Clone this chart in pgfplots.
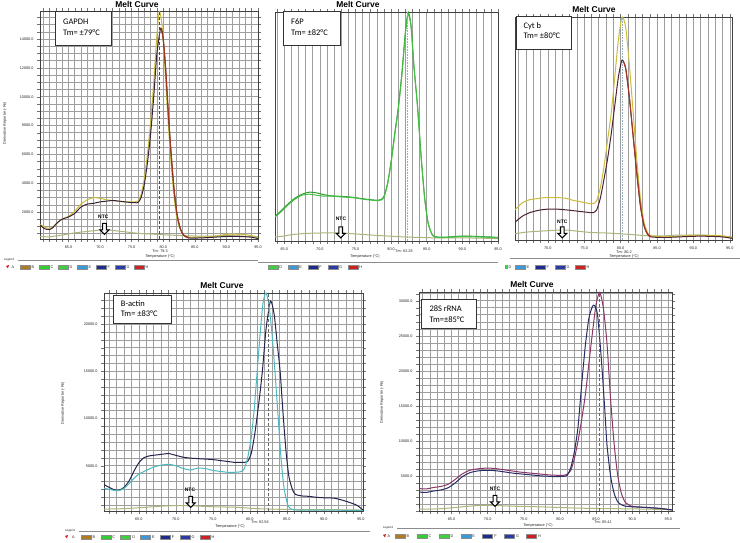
\documentclass[border=0pt]{standalone}
\usepackage{fontspec}
\setmainfont{Liberation Sans}
\newfontfamily\calibri{Carlito}
\usepackage{pgfplots}
\pgfplotsset{compat=1.18}
\usetikzlibrary{shapes.arrows}

% curve colours
\definecolor{cYel}{HTML}{CDBB3A}
\definecolor{cDark}{HTML}{3A2236}
\definecolor{cRed}{HTML}{A8361C}
\definecolor{cNtc}{HTML}{A9B77A}
\definecolor{cGrnA}{HTML}{2E9E2E}
\definecolor{cGrnB}{HTML}{46BE46}
\definecolor{cMaroon}{HTML}{4E2234}
\definecolor{cNavy}{HTML}{24244E}
\definecolor{cTeal}{HTML}{4DB9BF}
\definecolor{cMauve}{HTML}{8A3766}
\definecolor{cNavyB}{HTML}{2A2C66}
% legend swatches
\definecolor{legB}{HTML}{B07A22}
\definecolor{legC}{HTML}{33CC33}
\definecolor{legD}{HTML}{3FD03F}
\definecolor{legE}{HTML}{3A9AD8}
\definecolor{legF}{HTML}{1C2C8C}
\definecolor{legG}{HTML}{2B3BA6}
\definecolor{legH}{HTML}{CC2222}

\pgfplotsset{
  melt/.style={
    scale only axis, anchor=south west, clip=true,
    axis line style={black!75, line width=0.5bp},
    grid=both,
    major grid style={black!38, line width=0.55bp},
    minor grid style={black!38, line width=0.55bp},
    tick align=outside,
    major tick length=3bp, minor tick length=3bp,
    tick style={black!55, line width=0.4bp},
    xtick={65,70,...,95}, minor xtick={60,...,96},
    scaled ticks=false,
    tick label style={font=\fontsize{3.8}{4}\selectfont, text=black!85},
    /pgf/number format/fixed, /pgf/number format/fixed zerofill,
    /pgf/number format/precision=1, /pgf/number format/1000 sep={},
    /pgf/number format/assume math mode=true,
    every axis plot/.append style={line width=1bp, smooth, tension=0.4, mark=none},
  },
}

\tikzset{
  ntcarrow/.style={single arrow, draw=black, line width=1.1bp, fill=white,
    rotate=-90, minimum height=11bp, minimum width=9bp,
    single arrow head extend=2bp, inner sep=0.8bp},
  tiny/.style={font=\fontsize{3.8}{4}\selectfont, text=black!85, inner sep=0pt},
  mtitle/.style={font=\fontsize{8.5}{9}\selectfont\bfseries, inner sep=0pt},
  boxtxt/.style={font=\calibri\fontsize{8.5}{9}\selectfont, anchor=west, inner sep=0pt},
  ntc/.style={font=\fontsize{5}{5}\selectfont\bfseries, inner sep=0pt},
}

\def\legentries{B/legB,C/legC,D/legD,E/legE,F/legF,G/legG,H/legH}
% #1 x of swatch B, #2 y (image), #3 spacing, #4 first entry drawn (1 = B)
\newcommand{\legrow}[4]{%
  \foreach \l/\c [count=\i] in \legentries {%
    \ifnum\i<#4\relax\else
      \pgfmathsetmacro\xx{#1+(\i-1)*#3}%
      \fill[\c, draw=black!45, line width=0.3bp] (\xx,#2-2) rectangle ++(10,4);
      \node[tiny, anchor=west] at (\xx+11.5,#2) {\l};
    \fi
  }%
}

\begin{document}
\begin{tikzpicture}
\fill[white] (0,0) rectangle (740bp,543bp);
\useasboundingbox (0,0) rectangle (740bp,543bp);

% ---------------- GAPDH ----------------
\begin{axis}[melt, at={(40bp,304bp)}, width=218bp, height=228bp,
  xmin=60.5, xmax=95, ymin=125, ymax=15950,
  ytick={2000,4000,...,14000}, minor ytick={0,500,...,16000}]
\addplot[cNtc] coordinates {(60.5,300) (62,280) (64,400) (66,550) (68,650) (70,750) (71,780) (72,720) (74,620) (76,520) (78,470) (80,420) (82,380) (85,330) (88,330) (90,380) (92,330) (95,280)};
\addplot[cYel] coordinates {(60.5,1150) (61,1000) (61.5,900) (62,870) (62.5,950) (63,1150) (63.5,1350) (64,1500) (65,1700) (66,2050) (67,2550) (68,2850) (69,3000) (70,2950) (71,2850) (72,2800) (73,2750) (74,2700) (75,2700) (75.5,2700) (76,2750) (76.5,3200) (77,4300) (77.5,6000) (78,8200) (78.5,11000) (79,14300) (79.4,15900) (79.8,15000) (80.2,12500) (80.6,9500) (81,6800) (81.5,4000) (82,2000) (82.5,1000) (83,550) (83.5,320) (84,250) (86,250) (88,300) (90,450) (92,450) (93.5,400) (94.5,300) (95,150)};
\addplot[cDark] coordinates {(60.5,1100) (61,900) (61.5,800) (62,780) (62.5,900) (63,1150) (63.5,1350) (64,1500) (65,1650) (66,1900) (67,2350) (68,2550) (69,2600) (70,2700) (71,2750) (72,2800) (73,2750) (74,2700) (75,2650) (75.5,2650) (76,2650) (76.5,3000) (77,3900) (77.5,5400) (78,7400) (78.5,10000) (79,13000) (79.6,14750) (80,14000) (80.4,11800) (80.8,8900) (81.2,6300) (81.7,3600) (82.2,1800) (82.7,850) (83.2,400) (84,200) (86,200) (88,250) (90,300) (92,300) (94,250) (95,150)};
\addplot[cRed] coordinates {(79.6,14750) (80,14050) (80.4,11900) (80.8,9000) (81.2,6400) (81.7,3700) (82.2,1850) (82.7,870) (83.2,410) (84,220)};
\draw[black!70, densely dashed, line width=0.5bp] (axis cs:79.3,125) -- (axis cs:79.3,15950);
\end{axis}

% ---------------- F6P ----------------
\begin{axis}[melt, at={(275bp,302bp)}, width=223bp, height=229bp,
  xmin=63.7, xmax=95, ymin=0, ymax=11500,
  ytick=\empty, minor ytick={0,500,...,11500}]
\addplot[cNtc] coordinates {(63.7,200) (65,250) (66,320) (68,380) (70,400) (72,410) (74,380) (76,330) (78,280) (80,240) (82,200) (84,180) (86,160) (90,160) (95,120)};
\addplot[cGrnA] coordinates {(63.7,1250) (64.5,1500) (65.5,1850) (66.5,2150) (67.5,2350) (68.5,2450) (69.5,2420) (70.5,2330) (71.5,2270) (72.5,2250) (73.5,2230) (74.5,2200) (75.5,2150) (76.5,2100) (77.5,2060) (78.2,2050) (78.6,2080) (79,2250) (79.5,2900) (80,4000) (80.5,5400) (81,6700) (81.5,8400) (82,10500) (82.4,11500) (82.8,10800) (83.2,8800) (83.7,6800) (84.2,4300) (84.7,2200) (85.2,900) (85.8,300) (86.5,200) (88,200) (90,250) (92,230) (94,200) (95,180)};
\addplot[cGrnB] coordinates {(63.7,1200) (64.5,1450) (65.5,1800) (66.5,2100) (67.5,2300) (68.5,2350) (69.5,2300) (70.5,2250) (71.5,2250) (72.5,2230) (73.5,2200) (74.5,2180) (75.5,2130) (76.5,2080) (77.5,2040) (78.2,2030) (78.6,2060) (79,2200) (79.5,2850) (80,3950) (80.5,5300) (81,6600) (81.5,8300) (82,10400) (82.4,11400) (82.8,10750) (83.2,8750) (83.7,6750) (84.2,4250) (84.7,2150) (85.2,880) (85.8,280) (86.5,180) (88,180) (90,230) (92,210) (94,180) (95,160)};
\draw[cyan!40!black!50, densely dotted, line width=0.6bp] (axis cs:82.26,0) -- (axis cs:82.26,11500);
\end{axis}

% ---------------- Cyt b ----------------
\begin{axis}[melt, at={(515bp,303bp)}, width=217bp, height=223bp,
  xmin=65.5, xmax=95.3, ymin=0, ymax=10800,
  ytick=\empty, minor ytick={0,500,...,10500}]
\addplot[cNtc] coordinates {(65.5,300) (67,380) (69,430) (71,470) (72.5,480) (74,430) (76,360) (78,340) (80,300) (82,250) (84,200) (86,200) (88,240) (92,220) (95.3,150)};
\addplot[cYel] coordinates {(65.5,1460) (66.5,1800) (67.5,1950) (68.5,2000) (69.5,2050) (70.5,2050) (71.5,2050) (72.5,2020) (73.5,1920) (74.5,1850) (75.5,1780) (76.2,1760) (76.7,1900) (77.2,2500) (77.7,3500) (78.2,4800) (78.7,6100) (79.2,7900) (79.7,9700) (80.2,10800) (80.7,10300) (81.2,8500) (81.7,6300) (82.2,4000) (82.7,2100) (83.2,900) (83.7,350) (84.2,200) (86,150) (88,180) (90,230) (92,230) (94,200) (95.3,100)};
\addplot[cMaroon] coordinates {(65.5,860) (66.5,1150) (67.5,1320) (68.5,1420) (69.5,1480) (70.5,1500) (71.5,1490) (72.5,1460) (73.5,1420) (74.5,1380) (75.5,1340) (76.2,1320) (76.7,1450) (77.2,2000) (77.7,2900) (78.2,3900) (78.7,5100) (79.2,6500) (79.7,7900) (80.2,8720) (80.7,8300) (81.2,6900) (81.7,5100) (82.2,3300) (82.7,1700) (83.2,700) (83.7,280) (84.2,150) (86,120) (88,150) (90,180) (92,180) (94,150) (95.3,80)};
\addplot[cRed] coordinates {(80.3,8700) (80.7,8320) (81.2,6950) (81.7,5150) (82.2,3350) (82.7,1750) (83.2,720) (83.7,290) (84.2,160)};
\draw[cyan!40!black!50, densely dotted, line width=0.6bp] (axis cs:80.2,0) -- (axis cs:80.2,10800);
\end{axis}

% ---------------- B-actin ----------------
\begin{axis}[melt, at={(104bp,32bp)}, width=259bp, height=218bp,
  xmin=60.3, xmax=95.3, ymin=200, ymax=23300,
  ytick={5000,10000,15000,20000}, minor ytick={0,833.333,...,23300}]
\addplot[cNtc] coordinates {(60.3,400) (63,450) (66,600) (69,750) (72,750) (75,650) (78,600) (81,450) (84,380) (87,350) (90,350) (95.3,300)};
\addplot[cNavy] coordinates {(60.3,3000) (61,2700) (61.7,2450) (62.3,2400) (63,2700) (63.7,3400) (64.4,4500) (65,5300) (65.7,5850) (66.5,6050) (67.5,6150) (68.5,6250) (69,6300) (70,6100) (71,5900) (72,5800) (73,5750) (74,5700) (75,5650) (76,5550) (77,5450) (78,5350) (79,5350) (79.7,5450) (80.2,6300) (80.7,8500) (81.2,11500) (81.7,15000) (82.2,19500) (82.8,22450) (83.3,21000) (83.7,18000) (84.1,15000) (84.5,10500) (84.9,6500) (85.3,3800) (85.8,2400) (86.2,1950) (87,1800) (88,1750) (89,1650) (90,1600) (91.4,1560) (92.5,1350) (93.5,1100) (94.5,800) (95.3,300)};
\addplot[cTeal] coordinates {(60.3,2600) (61,2500) (61.7,2380) (62.3,2350) (63,2600) (63.7,3100) (64.4,3700) (65,4100) (66,4500) (67,4850) (68,5050) (69,5150) (70,5000) (71,4700) (72,4550) (73,4750) (74,4700) (75,4500) (76,4400) (77,4300) (78,4300) (78.7,4350) (79.2,4600) (79.7,5800) (80.2,8000) (80.6,11000) (81,15000) (81.4,19000) (81.8,22300) (82.2,23300) (82.6,22000) (83,19000) (83.4,15000) (83.8,10500) (84.2,6000) (84.6,2800) (85.1,900) (85.6,400) (86.5,300) (90,300) (95.3,250)};
\draw[black!60, densely dashed, line width=0.5bp] (axis cs:82.56,200) -- (axis cs:82.56,23300);
\end{axis}

% ---------------- 28S rRNA ----------------
\begin{axis}[melt, at={(419bp,32bp)}, width=253bp, height=219bp,
  xmin=60.5, xmax=95.5, ymin=0, ymax=31250,
  ytick={5000,10000,...,30000}, minor ytick={0,1000,...,31000}]
\addplot[cNtc] coordinates {(60.5,250) (63,300) (65,450) (67,650) (69,800) (71,800) (73,700) (75,650) (77,600) (80,500) (83,400) (86,350) (90,300) (95.5,200)};
\addplot[cMauve] coordinates {(60.5,3200) (61.5,3150) (62.5,3350) (63.5,3500) (64.5,3800) (65.5,4500) (66.5,5300) (67.5,5800) (68.5,6000) (69.5,6100) (70.5,6100) (71.5,6000) (72.5,5850) (73.5,5700) (74.5,5550) (75.5,5450) (76.5,5350) (77.5,5250) (78.5,5150) (79.5,5100) (80.5,5100) (81,5250) (81.5,5800) (82,7500) (82.5,10000) (83,13000) (83.5,16500) (84,21000) (84.5,25500) (85,29500) (85.5,31200) (86,29000) (86.5,24000) (87,16000) (87.5,9500) (88,5000) (88.5,2500) (89,1300) (89.5,900) (90,650) (92,500) (94,350) (95.5,150)};
\addplot[cNavyB] coordinates {(60.5,2700) (61.5,2650) (62.5,2850) (63.5,3000) (64.5,3300) (65.5,4000) (66.5,4900) (67.5,5450) (68.5,5700) (69.5,5800) (70.5,5800) (71.5,5700) (72.5,5550) (73.5,5400) (74.5,5300) (75.5,5200) (76.5,5100) (77.5,5000) (78.5,4950) (79.5,4900) (80.5,4950) (81,5100) (81.5,6200) (82,8500) (82.5,12000) (83,18000) (83.5,23500) (84,27500) (84.5,29200) (84.8,29300) (85.2,28000) (85.7,22000) (86.2,14500) (86.5,9500) (87,5000) (87.5,2500) (88,1300) (88.5,900) (89,700) (90,600) (92,500) (94,350) (95.5,150)};
\draw[black!60, densely dashed, line width=0.5bp] (axis cs:85.41,0) -- (axis cs:85.41,31250);
\end{axis}

% ---------------- annotations, image coordinates (y down) ----------------
\begin{scope}[x=1bp, y=-1bp, yshift=543bp]
  % titles
  \node[mtitle] at (137,4.5) {Melt Curve};
  \node[mtitle] at (358,4.5) {Melt Curve};
  \node[mtitle] at (594,9) {Melt Curve};
  \node[mtitle] at (222,285) {Melt Curve};
  \node[mtitle] at (532,284) {Melt Curve};
  % gene boxes
  \draw[black!80, line width=0.6bp, fill=white] (55,11.7) rectangle (111.7,45);
  \node[boxtxt] at (63,21.7) {GAPDH};
  \node[boxtxt] at (63,32.7) {Tm= ±79°C};
  \draw[black!80, line width=0.6bp, fill=white] (283.3,11.7) rectangle (340,45);
  \node[boxtxt] at (291,21.7) {F6P};
  \node[boxtxt] at (291,33) {Tm= ±82°C};
  \draw[black!80, line width=0.6bp, fill=white] (516,16.7) rectangle (571.7,49.3);
  \node[boxtxt] at (523.3,26) {Cyt b};
  \node[boxtxt] at (523.3,36) {Tm= ±80°C};
  \draw[black!80, line width=0.6bp, fill=white] (113.3,295) rectangle (171.7,323.3);
  \node[boxtxt] at (120.7,303.3) {B-actin};
  \node[boxtxt] at (120.7,314) {Tm= ±83°C};
  \draw[black!80, line width=0.6bp, fill=white] (421.7,299.3) rectangle (476.7,328.3);
  \node[boxtxt] at (429.3,308.3) {28S rRNA};
  \node[boxtxt] at (429.3,320) {Tm=±85°C};
  % NTC arrows
  \node[ntc] at (103.3,216.7) {NTC};
  \node[ntcarrow] at (104.5,228) {};
  \node[ntc] at (341,219) {NTC};
  \node[ntcarrow] at (340.7,231.5) {};
  \node[ntc] at (562.3,221.7) {NTC};
  \node[ntcarrow] at (562.3,231.5) {};
  \node[ntc] at (190,489.3) {NTC};
  \node[ntcarrow] at (190.7,501) {};
  \node[ntc] at (495,488.3) {NTC};
  \node[ntcarrow] at (495,500) {};
  % y labels
  \node[tiny, rotate=90] at (5,123) {Derivative Reporter (-Rn)};
  \node[tiny, rotate=90] at (63,403) {Derivative Reporter (-Rn)};
  \node[tiny, rotate=90] at (382,402) {Derivative Reporter (-Rn)};
  % x labels and Tm
  \node[tiny] at (160,251.5) {Tm: 79.3};
  \node[tiny] at (160,256.5) {Temperature (°C)};
  \node[tiny] at (404,251.5) {Tm: 82.26};
  \node[tiny] at (365,256.5) {Temperature (°C)};
  \node[tiny] at (624,252.5) {Tm: 80.2};
  \node[tiny] at (624,257) {Temperature (°C)};
  \node[tiny] at (260,522) {Tm: 82.56};
  \node[tiny] at (230,527) {Temperature (°C)};
  \node[tiny] at (603,522) {Tm: 85.41};
  \node[tiny] at (538,526) {Temperature (°C)};
  % legend rows
  \node[tiny, font=\fontsize{3}{3}\selectfont] at (9,260) {Legend};
  \draw[black!45, line width=0.4bp] (18,260) -- (258,260);
  \fill[legH] (6,266) -- (9,265) -- (8,268.5) -- cycle;
  \node[tiny] at (13,267) {A};
  \legrow{20}{267}{19}{1}
  \draw[black!45, line width=0.4bp] (258,262) -- (498,262);
  \legrow{227.7}{267}{20}{3}
  \draw[black!45, line width=0.4bp] (510,258) -- (740,258);
  \fill[legD] (505,265) rectangle (507.5,269);
  \node[tiny] at (510,267) {D};
  \legrow{455}{267}{20}{4}
  \node[tiny, font=\fontsize{3}{3}\selectfont] at (70,531) {Legend};
  \draw[black!45, line width=0.4bp] (79,531) -- (370,531);
  \fill[legH] (65,536) -- (68,535) -- (67,538.5) -- cycle;
  \node[tiny] at (73.3,537) {A};
  \legrow{81}{537}{19.8}{1}
  \node[tiny, font=\fontsize{3}{3}\selectfont] at (388,528) {Legend};
  \draw[black!45, line width=0.4bp] (397,528) -- (680,528);
  \fill[legH] (383,535) -- (386,534) -- (385,537.5) -- cycle;
  \node[tiny] at (389,536) {A};
  \legrow{395}{536}{21.9}{1}
\end{scope}
\end{tikzpicture}
\end{document}
